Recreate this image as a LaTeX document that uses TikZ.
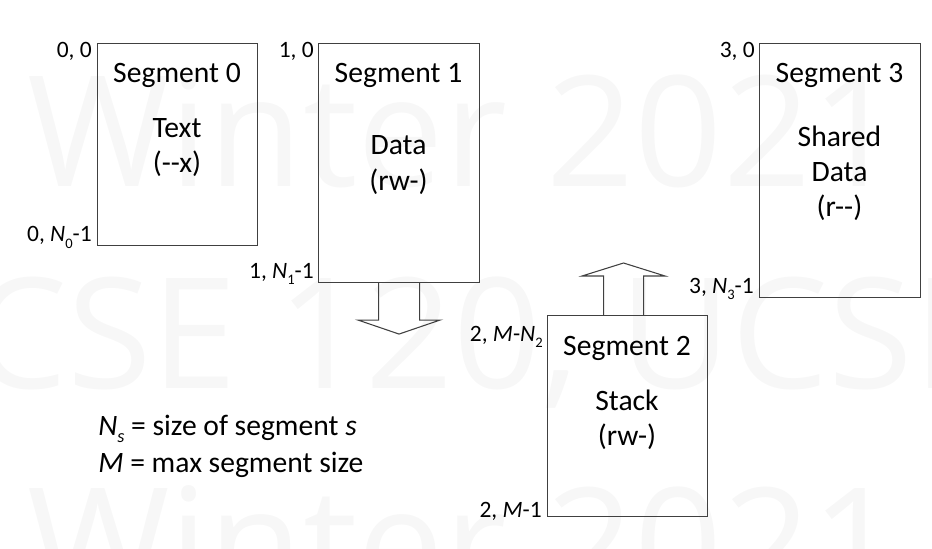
\documentclass[tikz,border=0pt]{standalone}
\usepackage{fontspec}
\usepackage{graphicx}
\setmainfont{Carlito}[Ligatures=TeXOff]
\newfontfamily\wmfont{Open Sans}
\newcommand\lowsub[1]{\raisebox{-0.55ex}{\scalebox{0.62}{#1}}}
\usetikzlibrary{calc}
\begin{document}
\begin{tikzpicture}[x=0.75pt,y=-0.75pt,
  segbox/.style={draw=black!75, line width=0.8pt, inner sep=0pt, anchor=north west},
  txt/.style={font=\fontsize{22.2}{26}\selectfont, anchor=base, inner sep=0pt},
  lbl/.style={font=\fontsize{17.6}{20}\selectfont, anchor=base east, inner sep=0pt},
  legend/.style={font=\fontsize{22.2}{26}\selectfont, anchor=base west, inner sep=0pt},
  blk/.style={draw=black!75, line width=0.8pt, line join=miter},
  wm/.style={font=\wmfont\fontsize{115.5}{120}\selectfont, text=black!3, anchor=base west, inner sep=0pt}]
\useasboundingbox (0,0) rectangle (932,549);
\begin{scope}
\clip (0,0) rectangle (932,549);
\node[wm] (wm1) at (27,187) {Winter 2021};
\node[wm] (wm2) at (-30,388) {CSE 120, UCSD};
\node[wm] (wm3) at (27,598) {Winter 2021};
\end{scope}

% segment boxes
\node[segbox, minimum width=120pt, minimum height=151.5pt] (s0) at (97,43) {};
\node[segbox, minimum width=120.75pt, minimum height=179.25pt] (s1) at (318,43) {};
\node[segbox, minimum width=120.75pt, minimum height=190.5pt] (s3) at (759,43) {};
\node[segbox, minimum width=120pt, minimum height=150.75pt] (s2) at (547,315) {};

% texts in boxes
\node[txt] (t0a) at (177,83) {Segment 0};
\node[txt] (t0b) at (177,138) {Text};
\node[txt] (t0c) at (177,173) {(--x)};

\node[txt] (t1a) at (398.5,83) {Segment 1};
\node[txt] (t1b) at (398.5,155) {Data};
\node[txt] (t1c) at (398.5,191) {(rw-)};

\node[txt] (t3a) at (839.5,83) {Segment 3};
\node[txt] (t3b) at (839.5,147) {Shared};
\node[txt] (t3c) at (839.5,182) {Data};
\node[txt] (t3d) at (839.5,217) {(r--)};

\node[txt] (t2a) at (627,355) {Segment 2};
\node[txt] (t2b) at (627,410) {Stack};
\node[txt] (t2c) at (627,445) {(rw-)};

% address labels
\node[lbl] (l00) at (92,58) {0, 0};
\node[lbl] (l01) at (92,242) {0, \textit{N}\lowsub{0}-1};
\node[lbl] (l10) at (314,58) {1, 0};
\node[lbl] (l11) at (314,278) {1, \textit{N}\lowsub{1}-1};
\node[lbl] (l30) at (755,58) {3, 0};
\node[lbl] (l31) at (754,293) {3, \textit{N}\lowsub{3}-1};
\node[lbl] (l20) at (543,341) {2, \textit{M}-\textit{N}\lowsub{2}};
\node[lbl] (l21) at (542,517) {2, \textit{M}-1};

% legend
\node[legend] (lg1) at (98,435) {\textit{N}\lowsub{\textit{s}} = size of segment \textit{s}};
\node[legend] (lg2) at (98,472) {\textit{M} = max segment size};

% growth arrows
\coordinate (d) at (s1.south);
\draw[blk] ($(d)+(-20.5,0)$) -- ($(d)+(-20.5,37)$) -- ($(d)+(-41,37)$) -- ($(d)+(0,51)$)
  -- ($(d)+(41,37)$) -- ($(d)+(20.5,37)$) -- ($(d)+(20.5,0)$);
\coordinate (u) at ($(s2.north)+(-4,0)$);
\draw[blk] ($(u)+(-20,0)$) -- ($(u)+(-20,-39)$) -- ($(u)+(-41.5,-39)$) -- ($(u)+(0,-52)$)
  -- ($(u)+(41.5,-39)$) -- ($(u)+(20,-39)$) -- ($(u)+(20,0)$);
\end{tikzpicture}
\end{document}
